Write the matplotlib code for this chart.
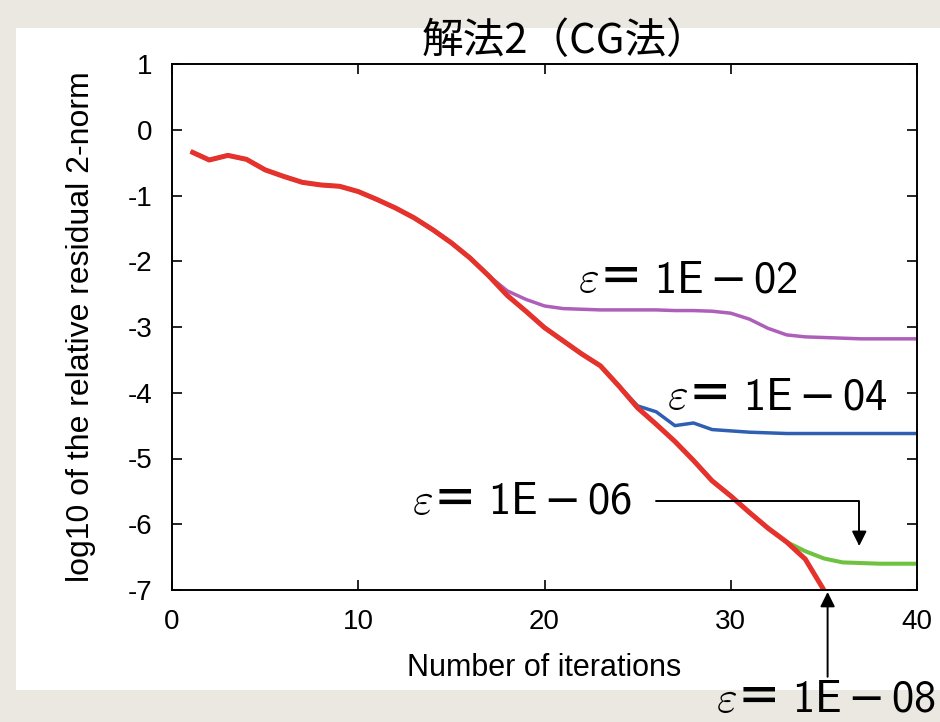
import matplotlib
matplotlib.use('Agg')
import matplotlib.pyplot as plt
from matplotlib.patches import Rectangle

plt.rcParams['font.family'] = ['Liberation Sans Narrow', 'Liberation Sans', 'DejaVu Sans']
plt.rcParams['mathtext.fontset'] = 'custom'
plt.rcParams['mathtext.rm'] = 'cmss10'
plt.rcParams['mathtext.sf'] = 'cmss10'
plt.rcParams['mathtext.it'] = 'cmmi10'

# log10 residual per iteration for each stopping tolerance
iters = list(range(1, 41))
iters_08 = list(range(1, 36))

res_02 = [-0.33, -0.46, -0.39, -0.45, -0.61, -0.71, -0.80, -0.84, -0.86, -0.94,
          -1.06, -1.19, -1.34, -1.52, -1.72, -1.95, -2.22, -2.45, -2.58, -2.68,
          -2.72, -2.73, -2.74, -2.74, -2.74, -2.74, -2.75, -2.75, -2.76, -2.79,
          -2.88, -3.02, -3.12, -3.15, -3.16, -3.17, -3.18, -3.18, -3.18, -3.18]
res_04 = [-0.33, -0.46, -0.39, -0.45, -0.61, -0.71, -0.80, -0.84, -0.86, -0.94,
          -1.06, -1.19, -1.34, -1.52, -1.72, -1.95, -2.22, -2.52, -2.76, -3.01,
          -3.21, -3.41, -3.59, -3.90, -4.20, -4.29, -4.50, -4.46, -4.56, -4.58,
          -4.60, -4.61, -4.62, -4.62, -4.62, -4.62, -4.62, -4.62, -4.62, -4.62]
res_06 = [-0.33, -0.46, -0.39, -0.45, -0.61, -0.71, -0.80, -0.84, -0.86, -0.94,
          -1.06, -1.19, -1.34, -1.52, -1.72, -1.95, -2.22, -2.52, -2.76, -3.01,
          -3.21, -3.41, -3.59, -3.90, -4.23, -4.48, -4.74, -5.03, -5.34, -5.57,
          -5.82, -6.06, -6.27, -6.41, -6.52, -6.58, -6.59, -6.60, -6.60, -6.60]
res_08 = [-0.33, -0.46, -0.39, -0.45, -0.61, -0.71, -0.80, -0.84, -0.86, -0.94,
          -1.06, -1.19, -1.34, -1.52, -1.72, -1.95, -2.22, -2.52, -2.76, -3.01,
          -3.21, -3.41, -3.59, -3.90, -4.23, -4.48, -4.74, -5.03, -5.34, -5.57,
          -5.82, -6.06, -6.27, -6.53, -7.00]

x_ticks = [0, 10, 20, 30, 40]
y_ticks = [1, 0, -1, -2, -3, -4, -5, -6, -7]


def eps_label(ax, x, y, exp, coords='data'):
    # "ε＝" in the CJK font, the exponent in CM sans with a plain minus
    ax.annotate(r'$\varepsilon$＝', xy=(x, y), xycoords=coords, fontsize=32,
                family='Noto Sans CJK JP', weight='bold', va='baseline',
                ha='left', annotation_clip=False)
    ax.annotate(r'$\mathrm{1E}\,$−$\,\mathrm{' + exp + '}$', xy=(x, y),
                xycoords=coords, xytext=(76, 0), textcoords='offset pixels',
                fontsize=32, family='DejaVu Sans', va='baseline', ha='left',
                annotation_clip=False)


fig = plt.figure(figsize=(9.4, 7.22), dpi=100)
fig.patch.set_facecolor('#ebe8e1')
fig.add_artist(Rectangle((16 / 940, 1 - 690 / 722), 1, (690 - 28) / 722,
                         transform=fig.transFigure, facecolor='white',
                         edgecolor='none', zorder=-1))

ax = fig.add_axes([172 / 940, 1 - 590 / 722, (917 - 172) / 940, (590 - 64) / 722])

ax.plot(iters, res_02, color='#ad5fb9', lw=2.5, solid_capstyle='butt')
ax.plot(iters, res_04, color='#2f5fb3', lw=2.5, solid_capstyle='butt')
ax.plot(iters, res_06, color='#6ec23f', lw=2.9, solid_capstyle='butt')
ax.plot(iters_08, res_08, color='#e5322d', lw=3.6, solid_capstyle='butt')

ax.set_xlim(0, 40)
ax.set_ylim(-7, 1)
ax.set_xticks(x_ticks, [str(v) for v in x_ticks])
ax.set_yticks(y_ticks, [str(v) for v in y_ticks])
ax.tick_params(direction='in', length=7, width=1.2, top=True, right=True,
               labelsize=20)
ax.tick_params(axis='x', pad=14)
ax.tick_params(axis='y', pad=14)
for s in ax.spines.values():
    s.set_linewidth(1.4)

ax.set_xlabel('Number of iterations', fontsize=22, labelpad=13)
ax.set_ylabel('log10 of the relative residual 2-norm', fontsize=23, labelpad=23)

fig.text(565 / 940, 0.943, '解法2（CG法）', fontsize=30, ha='center', va='center',
         family=['Noto Sans CJK JP', 'DejaVu Sans'])

eps_label(ax, 21.8, -2.475, '02')
eps_label(ax, 26.6, -4.25, '04')
eps_label(ax, 12.9, -5.84, '06')
eps_label(ax, 716 / 940, 10 / 722, '08', coords='figure fraction')

arrow = dict(arrowstyle='-|>', color='black', lw=1.4, mutation_scale=22,
             shrinkA=0, shrinkB=0)
ax.annotate('', xy=(36.9, -6.33), xytext=(26.0, -5.65),
            arrowprops=dict(connectionstyle='angle,angleA=0,angleB=90,rad=0', **arrow),
            annotation_clip=False)
ax.annotate('', xy=(35.2, -7.03), xytext=(35.2, -8.32),
            arrowprops=arrow, annotation_clip=False)

fig.savefig('out.png', dpi=100, facecolor=fig.get_facecolor())
